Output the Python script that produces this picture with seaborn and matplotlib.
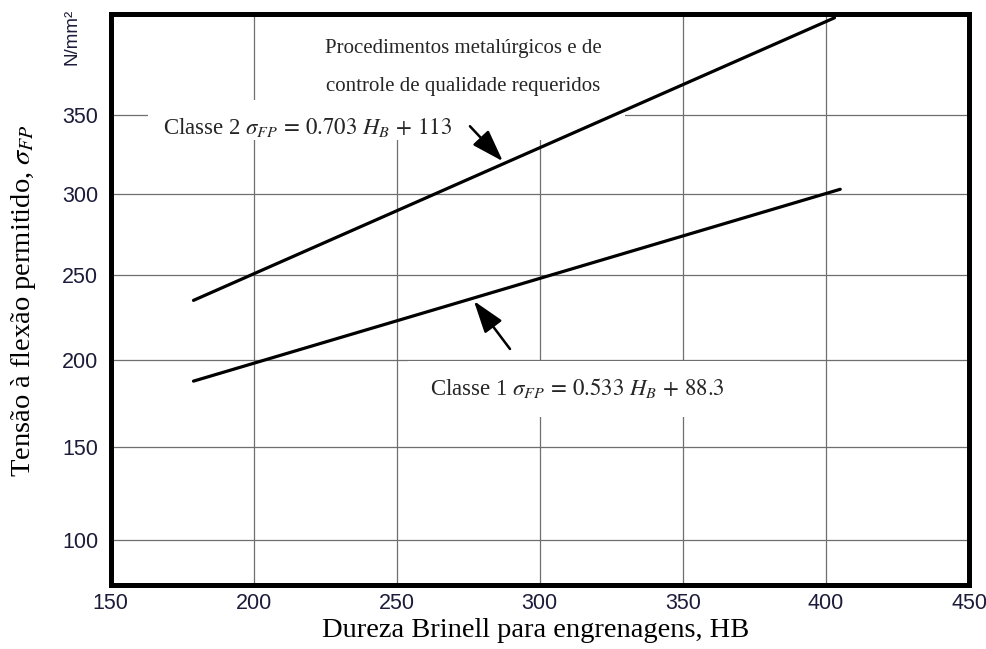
import numpy as np
import matplotlib
matplotlib.use("Agg")
import matplotlib.pyplot as plt
from matplotlib.patches import Rectangle
import seaborn as sns
import pandas as pd

# ---- data ----
hb_classe2 = [179, 403]
sigma_classe2 = [235, 413]
hb_classe1 = [179, 405]
sigma_classe1 = [187.5, 303]
x_ticks = [150, 200, 250, 300, 350, 400, 450]
y_ticks = [100, 150, 200, 250, 300, 350]

# annotation arrows (head on the line, tail near the label)
arrow2_head = (287.1, 320.6)
arrow2_tail = (275.6, 342.8)
arrow1_head = (277.0, 234.6)
arrow1_tail = (289.6, 206.2)

df = pd.DataFrame({
    "HB": hb_classe2 + hb_classe1,
    "sigma": sigma_classe2 + sigma_classe1,
    "classe": ["Classe 2"] * 2 + ["Classe 1"] * 2,
})

sns.set_theme(style="white")
plt.rcParams["font.family"] = ["Liberation Sans", "DejaVu Sans"]
plt.rcParams["mathtext.fontset"] = "stix"

fig = plt.figure(figsize=(9.86, 6.49), dpi=100)
ax = fig.add_axes([110.5 / 986, 1 - 585 / 649, (969 - 110.5) / 986, (585 - 14) / 649])

P = 0.835
ax.set_yscale("function",
              functions=(lambda v: np.power(np.clip(v, 1e-9, None), P),
                         lambda v: np.power(np.clip(v, 1e-9, None), 1 / P)))

sns.lineplot(data=df, x="HB", y="sigma", hue="classe",
             palette={"Classe 2": "black", "Classe 1": "black"},
             linewidth=2.3, legend=False, ax=ax, zorder=3)

ax.set_xlim(150, 450)
ax.set_ylim(77.1, 415.5)
ax.set_xticks(x_ticks)
ax.set_yticks(y_ticks)
ax.set_xticklabels([str(v) for v in x_ticks])
ax.set_yticklabels([str(v) for v in y_ticks])
ax.minorticks_off()
ax.set_axisbelow(True)
ax.grid(True, color="#6f6f6f", linewidth=0.9)
ax.tick_params(axis="both", length=0, labelsize=15.5, labelcolor="#1c1c3a")
ax.tick_params(axis="y", pad=9)
ax.tick_params(axis="x", pad=6)
for s in ax.spines.values():
    s.set_color("black")
    s.set_linewidth(3.6)
    s.set_zorder(5)

serif = ["Liberation Serif", "DejaVu Serif"]
ax.set_xlabel("Dureza Brinell para engrenagens, HB", family=serif, fontsize=20.5, color="black")
ax.xaxis.set_label_coords(0.4956, -0.057)
ax.set_ylabel(r"Tensão à flexão permitido, $\sigma_{FP}$", family=serif, fontsize=20.5, color="black")
ax.yaxis.set_label_coords(-0.085, 0.499)

fig.text(72 / 986, 1 - 37 / 649, "N/mm²", rotation=90, ha="center", va="center",
         fontsize=13.5, color="#1c1c3a")

# white label boxes (axes fraction) hiding the grid behind the annotations
for (x0, y0, x1, y1) in [(0.2289, 0.8494, 0.5993, 0.9982),
                         (0.0437, 0.7793, 0.5993, 0.8494),
                         (0.3465, 0.2942, 0.7566, 0.3923)]:
    ax.add_patch(Rectangle((x0, y0), x1 - x0, y1 - y0, transform=ax.transAxes,
                           fc="white", ec="none", zorder=2.4))

ax.text(273.2, 393, "Procedimentos metalúrgicos e de", family=serif, fontsize=15,
        ha="center", va="center", zorder=2.5)
ax.text(273.2, 368.5, "controle de qualidade requeridos", family=serif, fontsize=15,
        ha="center", va="center", zorder=2.5)
ax.text(168.3, 342.2, r"Classe 2 $\sigma_{FP}\,=\,0.703\ H_B\,+\,113$", family=serif,
        fontsize=16.5, ha="left", va="center", zorder=2.5)
ax.text(261.6, 183.6, r"Classe 1 $\sigma_{FP}\,=\,0.533\ H_B\,+\,88.3$", family=serif,
        fontsize=16.5, ha="left", va="center", zorder=2.5)

arrow = dict(arrowstyle="-|>,head_length=0.9,head_width=0.3", color="black", lw=1.8,
             mutation_scale=22, shrinkA=0, shrinkB=0)
ax.annotate("", xy=arrow2_head, xytext=arrow2_tail, arrowprops=arrow, zorder=4)
ax.annotate("", xy=arrow1_head, xytext=arrow1_tail, arrowprops=arrow, zorder=4)

fig.savefig("out.png", dpi=100, facecolor="white")
